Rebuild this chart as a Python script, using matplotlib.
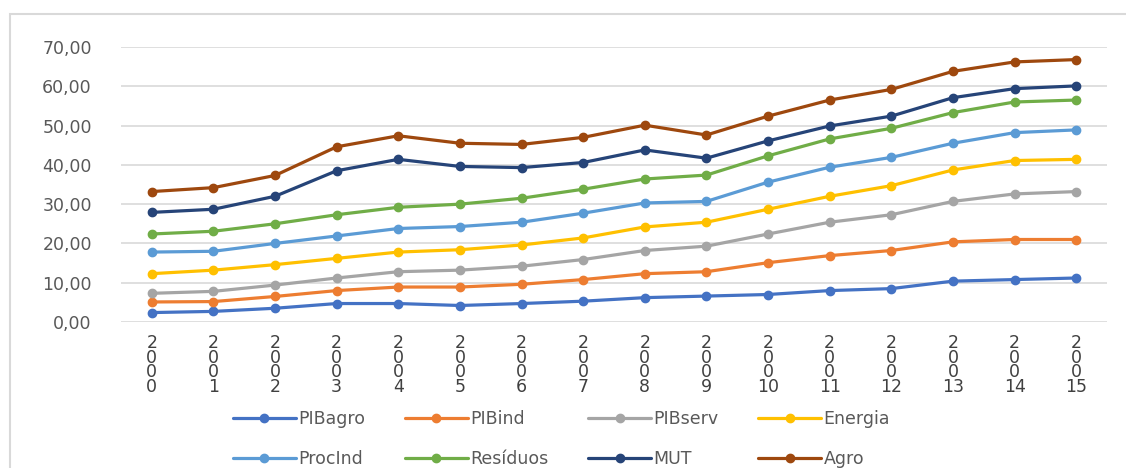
import matplotlib
matplotlib.use("Agg")
import matplotlib.pyplot as plt
from matplotlib.patches import Rectangle

x_labels = ["2\n0\n0\n0", "2\n0\n0\n1", "2\n0\n0\n2", "2\n0\n0\n3", "2\n0\n0\n4",
            "2\n0\n0\n5", "2\n0\n0\n6", "2\n0\n0\n7", "2\n0\n0\n8", "2\n0\n0\n9",
            "2\n0\n0\n10", "2\n0\n0\n11", "2\n0\n0\n12", "2\n0\n0\n13", "2\n0\n0\n14",
            "2\n0\n0\n15"]

PIBagro  = [2.4, 2.7, 3.5, 4.7, 4.7, 4.2, 4.7, 5.3, 6.2, 6.6, 7.0, 8.0, 8.5, 10.4, 10.8, 11.2]
PIBind   = [5.1, 5.2, 6.5, 8.0, 8.9, 8.9, 9.6, 10.8, 12.3, 12.8, 15.1, 16.9, 18.2, 20.4, 21.0, 21.0]
PIBserv  = [7.3, 7.8, 9.4, 11.2, 12.8, 13.2, 14.2, 15.9, 18.2, 19.3, 22.4, 25.4, 27.3, 30.7, 32.6, 33.2]
Energia  = [12.3, 13.2, 14.6, 16.2, 17.8, 18.4, 19.6, 21.4, 24.2, 25.4, 28.7, 32.0, 34.7, 38.7, 41.1, 41.4]
ProcInd  = [17.8, 18.0, 20.0, 21.9, 23.8, 24.3, 25.4, 27.7, 30.3, 30.7, 35.6, 39.4, 41.9, 45.5, 48.2, 48.9]
Residuos = [22.4, 23.1, 25.0, 27.3, 29.2, 30.0, 31.5, 33.8, 36.4, 37.4, 42.3, 46.6, 49.3, 53.3, 56.0, 56.5]
MUT      = [27.9, 28.7, 32.0, 38.5, 41.4, 39.6, 39.3, 40.6, 43.8, 41.7, 46.1, 49.9, 52.4, 57.1, 59.4, 60.1]
Agro     = [33.2, 34.2, 37.3, 44.6, 47.4, 45.5, 45.2, 47.0, 50.1, 47.6, 52.4, 56.5, 59.2, 63.8, 66.2, 66.8]

series_names = ["PIBagro", "PIBind", "PIBserv", "Energia", "ProcInd", "Resíduos", "MUT", "Agro"]
series_values = [PIBagro, PIBind, PIBserv, Energia, ProcInd, Residuos, MUT, Agro]
colors = ["#4472C4", "#ED7D31", "#A5A5A5", "#FFC000", "#5B9BD5", "#70AD47", "#264478", "#9E480E"]

W, H = 1126, 468
fig = plt.figure(figsize=(W / 100, H / 100), dpi=100)
ax = fig.add_axes([121 / W, (H - 322) / H, (1107 - 121) / W, (322 - 47) / H])

x = list(range(len(x_labels)))
handles = []
for name, vals, c in zip(series_names, series_values, colors):
    h, = ax.plot(x, vals, color=c, lw=2.3, marker="o", markersize=6, label=name,
                 solid_capstyle="round")
    handles.append(h)

ax.set_xlim(-0.5, len(x_labels) - 0.5)
ax.set_ylim(0, 70)
ax.set_yticks(range(0, 71, 10))
ax.set_yticklabels([f"{v:.2f}".replace(".", ",") for v in range(0, 71, 10)])
ax.set_xticks(x)
ax.set_xticklabels(x_labels, linespacing=0.74)
ax.grid(axis="y", color="#D9D9D9", lw=1.2)
ax.set_axisbelow(True)
for s in ax.spines.values():
    s.set_visible(False)
ax.tick_params(axis="both", length=0)
ax.tick_params(axis="y", labelsize=12.5, pad=21, labelcolor="#595959")
ax.tick_params(axis="x", labelsize=12.5, pad=9, labelcolor="#404040")

# legend: row-major order with 4 columns
order = [0, 4, 1, 5, 2, 6, 3, 7]
leg = fig.legend([handles[i] for i in order], [series_names[i] for i in order],
                 ncol=4, loc="upper left", bbox_to_anchor=(233 / W, (H - 410) / H),
                 frameon=False, fontsize=12.5, handlelength=3.6, handletextpad=0.15,
                 columnspacing=2.3, labelspacing=1.25, borderaxespad=0, borderpad=0)
for t in leg.get_texts():
    t.set_color("#595959")

fig.patches.append(Rectangle((10 / W, -0.5), 2, (H - 14) / H + 0.5, transform=fig.transFigure,
                             fill=False, edgecolor="#D9D9D9", lw=1.5))

fig.savefig("out.png", dpi=100)
